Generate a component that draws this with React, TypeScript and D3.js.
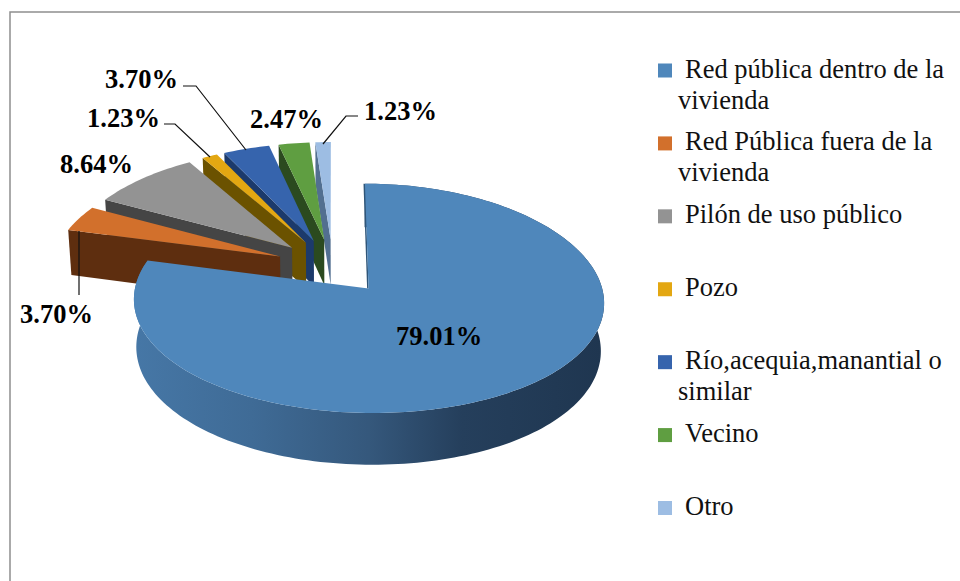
import React from "react";
import * as d3 from "d3";

const categories = [
  "Red pública dentro de la vivienda",
  "Red Pública fuera de la vivienda",
  "Pilón de uso público",
  "Pozo",
  "Río,acequia,manantial o similar",
  "Vecino",
  "Otro",
];
const values = [79.01, 3.7, 8.64, 1.23, 3.7, 2.47, 1.23];
const legendLines = [
  ["Red pública dentro de la", "vivienda"],
  ["Red Pública fuera de la", "vivienda"],
  ["Pilón de uso público"],
  ["Pozo"],
  ["Río,acequia,manantial o", "similar"],
  ["Vecino"],
  ["Otro"],
];
const topColors = ["#4f87bb", "#d2702c", "#939393", "#e3a712", "#3664ad", "#5f9e41", "#9dbde3"];
const wallColors = ["#2f5578", "#5e2e0f", "#454545", "#6b5200", "#1c3a6b", "#2b4a1f", "#526f90"];

// where each value label sits (x = left edge, y = baseline)
const labelPos = [
  [396, 345],
  [20, 323],
  [60, 173],
  [87, 127],
  [105, 88],
  [250, 128],
  [364, 120],
];
const leaders: [number, number][][] = [
  [[79, 231], [79, 295]],
  [[164, 124], [175, 124], [210, 157]],
  [[183, 86], [196, 86], [246, 150]],
  [[358, 116], [346, 116], [323, 144]],
];

const W = 960;
const H = 581;
// perspective pie model, fitted to the picture
const Ox = 332.8;
const Oy = 266.3;
const A = 228.5;
const B = 110;
const K = 0.085;
const KX = 0.11;
const DEPTH = 46.5;
const EXPLODE = 0.25;

const arcs = d3.pie<number>().sort(null).value((d) => d)(values);

function project(px: number, pz: number, low = false): [number, number] {
  const s = 1 / (1 + K * pz);
  const x = (px * A) / (1 + KX * pz);
  const y = -pz * B * s;
  if (low) return [Ox + x * 0.988, Oy + y + DEPTH * s];
  return [Ox + x, Oy + y];
}

function slicePoints(a: d3.PieArcDatum<number>) {
  const m = (a.startAngle + a.endAngle) / 2;
  const ex = EXPLODE * Math.sin(m);
  const ez = EXPLODE * Math.cos(m);
  const n = Math.max(2, Math.ceil((a.endAngle - a.startAngle) * 40));
  const angles = d3.range(n + 1).map((i) => a.startAngle + ((a.endAngle - a.startAngle) * i) / n);
  const rim = (low: boolean) =>
    angles.map((t) => project(ex + Math.sin(t), ez + Math.cos(t), low));
  return {
    apex: project(ex, ez),
    apexLow: project(ex, ez, true),
    rimTop: rim(false),
    rimLow: rim(true),
  };
}

const line = d3.line();
const closed = (pts: [number, number][]) => line(pts) + "Z";

const legendY = d3.scalePoint<number>().domain(d3.range(categories.length)).range([70.5, 508]);

export default function App() {
  const order = d3.range(arcs.length).slice(1).reverse();
  const main = slicePoints(arcs[0]);
  return (
    <svg
      width={W}
      height={H}
      style={{ position: "absolute", left: 0, top: 0, background: "#fff" }}
      fontFamily="'Liberation Serif', serif"
    >
      <defs>
        <linearGradient id="mainWall" gradientUnits="userSpaceOnUse" x1={135} x2={602} y1={0} y2={0}>
          <stop offset="0" stopColor="#4677a6" />
          <stop offset="0.25" stopColor="#3f6b96" />
          <stop offset="0.5" stopColor="#35587c" />
          <stop offset="0.7" stopColor="#253f5c" />
          <stop offset="1" stopColor="#1f3650" />
        </linearGradient>
      </defs>

      <path d={`M${W},12H10V${H}`} fill="none" stroke="#8f8f8f" strokeWidth={1.5} />

      {order.map((i) => {
        const p = slicePoints(arcs[i]);
        return (
          <g key={categories[i]}>
            <path
              d={closed([p.apex, p.rimTop[0], p.rimLow[0], p.apexLow])}
              fill={wallColors[i]}
            />
            <path d={closed([p.apex, ...p.rimTop])} fill={topColors[i]} />
          </g>
        );
      })}

      <path
        d={closed([...main.rimTop, ...main.rimLow.slice().reverse()])}
        fill="url(#mainWall)"
      />
      <path
        d={line([main.rimTop[0], main.apex]) ?? ""}
        fill="none"
        stroke={wallColors[0]}
        strokeWidth={1.5}
        transform="translate(-0.7,0)"
      />
      <path d={closed([main.apex, ...main.rimTop])} fill={topColors[0]} />

      {leaders.map((pts, i) => (
        <path key={i} d={line(pts) ?? ""} fill="none" stroke="#111" strokeWidth={1.2} />
      ))}

      {values.map((v, i) => (
        <text
          key={i}
          x={labelPos[i][0]}
          y={labelPos[i][1]}
          fontSize={26.5}
          fontWeight="bold"
          fill="#000"
        >
          {d3.format(".2f")(v)}%
        </text>
      ))}

      {categories.map((c, i) => (
        <g key={c}>
          <rect x={658} y={legendY(i)! - 7} width={14} height={14} fill={topColors[i]} />
          {legendLines[i].map((t, j) => (
            <text
              key={t}
              x={j === 0 ? 685 : 678}
              y={legendY(i)! + 7 + j * 31}
              fontSize={26.5}
              fill="#111"
            >
              {t}
            </text>
          ))}
        </g>
      ))}
    </svg>
  );
}
